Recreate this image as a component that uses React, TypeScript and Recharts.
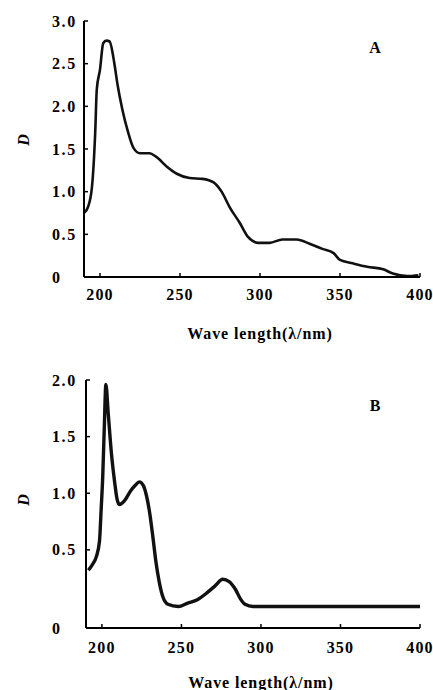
import React from 'react';
import { LineChart, Line, XAxis, YAxis } from 'recharts';

const wavelengthA = [190, 192.5, 195, 197, 198, 200, 202, 204, 206, 209, 211, 214, 217.5, 221, 225, 231, 235, 242, 248, 256, 264, 271, 276, 281, 287.5, 292.5, 299, 306, 314, 323, 331, 339, 346, 350, 358, 367, 377, 383, 392, 399];
const absorbA = [0.75, 0.82, 1.06, 1.69, 2.2, 2.43, 2.74, 2.77, 2.76, 2.5, 2.25, 1.96, 1.7, 1.51, 1.45, 1.45, 1.41, 1.29, 1.21, 1.16, 1.15, 1.11, 1.0, 0.82, 0.63, 0.47, 0.4, 0.4, 0.44, 0.44, 0.39, 0.33, 0.28, 0.2, 0.16, 0.12, 0.09, 0.04, 0.01, 0.02];

const wavelengthB = [191.5, 194, 196.5, 198.5, 199.5, 200.5, 201.5, 202.5, 204, 206, 208, 209.5, 211, 214, 218, 221, 223.5, 226, 228, 230, 232, 234, 236, 238, 241.5, 248, 254, 260, 266, 271, 276, 280, 284, 287, 290, 295, 320, 350, 380, 400];
const absorbB = [0.32, 0.37, 0.44, 0.58, 0.85, 1.14, 1.58, 1.96, 1.7, 1.35, 1.1, 0.95, 0.9, 0.93, 1.02, 1.07, 1.1, 1.07, 0.98, 0.83, 0.62, 0.39, 0.22, 0.1, 0.02, 0.0, 0.03, 0.06, 0.12, 0.18, 0.24, 0.22, 0.15, 0.07, 0.02, 0.0, 0.0, 0.0, 0.0, 0.0];

const xTicks = [200, 250, 300, 350, 400];
const xTickLabels = ['200', '250', '300', '350', '400'];
const yTicksA = [0, 0.5, 1, 1.5, 2, 2.5, 3];
const yTickLabelsA = ['0', '0.5', '1.0', '1.5', '2.0', '2.5', '3.0'];
const yTicksB = [-0.19, 0.5, 1, 1.5, 2];
const yTickLabelsB = ['0', '0.5', '1.0', '1.5', '2.0'];

const xTitle = 'Wave  length(λ/nm)';
const yTitle = 'D';
const panelA = 'A';
const panelB = 'B';

const dataA = wavelengthA.map((nm, i) => ({ nm, d: absorbA[i] }));
const dataB = wavelengthB.map((nm, i) => ({ nm, d: absorbB[i] }));

const FONT = '"Liberation Serif", "DejaVu Serif", serif';

const makeYTick = (values: number[], labels: string[], margin: number) => (props: any) => {
  const { x, y, payload } = props;
  const idx = values.indexOf(payload.value);
  const axisX = x + margin;
  return (
    <g>
      <line x1={axisX} x2={axisX + 4} y1={y} y2={y} stroke="#000" strokeWidth={1.5} />
      <text x={x} y={y} dy="0.35em" textAnchor="start" fontFamily={FONT} fontWeight="bold" fontSize={16} letterSpacing={1.6} fill="#000">
        {idx >= 0 ? labels[idx] : String(payload.value)}
      </text>
    </g>
  );
};

const makeXTick = (margin: number) => (props: any) => {
  const { x, y, payload } = props;
  const idx = xTicks.indexOf(payload.value);
  const axisY = y - margin;
  return (
    <g>
      <line x1={x} x2={x} y1={axisY} y2={axisY - 4} stroke="#000" strokeWidth={1.5} />
      <text x={x} y={y} dy="0.71em" textAnchor="middle" fontFamily={FONT} fontWeight="bold" fontSize={16} letterSpacing={1.2} fill="#000">
        {idx >= 0 ? xTickLabels[idx] : String(payload.value)}
      </text>
    </g>
  );
};

const yLabel = (dy: number) => (props: any) => {
  const vb = props.viewBox || { x: 0, y: 0, width: 0, height: 0 };
  const cx = vb.x + 23;
  const cy = vb.y + vb.height / 2 + dy;
  return (
    <text x={cx} y={cy} transform={`rotate(-90, ${cx}, ${cy})`} textAnchor="middle" dy="0.35em" fontFamily={FONT} fontStyle="italic" fontWeight="bold" fontSize={16} fill="#000">
      {yTitle}
    </text>
  );
};

const xLabel = (dy: number) => (props: any) => {
  const vb = props.viewBox || { x: 0, y: 0, width: 0, height: 0 };
  const cx = vb.x + vb.width / 2 + 8;
  const cy = vb.y + dy;
  return (
    <text x={cx} y={cy} textAnchor="middle" dy="0.35em" fontFamily={FONT} fontWeight="bold" fontSize={16} letterSpacing={0.9} fill="#000">
      {xTitle}
    </text>
  );
};

export default function App() {
  return (
    <div style={{ position: 'absolute', left: 0, top: 0, width: 433, height: 690, background: '#fff' }}>
      <LineChart width={433} height={345} data={dataA} margin={{ top: 21, right: 13, left: 0, bottom: 0 }}>
        <XAxis
          type="number"
          dataKey="nm"
          domain={[190, 400]}
          ticks={xTicks}
          height={68}
          tickSize={0}
          tickLine={false}
          tickMargin={12}
          axisLine={{ stroke: '#000', strokeWidth: 2 }}
          tick={makeXTick(12)}
          allowDataOverflow
          label={{ content: xLabel(56) }}
        />
        <YAxis
          type="number"
          domain={[0, 3]}
          ticks={yTicksA}
          width={84}
          tickSize={0}
          tickLine={false}
          tickMargin={32}
          axisLine={{ stroke: '#000', strokeWidth: 2 }}
          tick={makeYTick(yTicksA, yTickLabelsA, 32)}
          allowDataOverflow
          label={{ content: yLabel(-9) }}
        />
        <Line type="monotone" dataKey="d" stroke="#111" strokeWidth={2.6} dot={false} isAnimationActive={false} />
        <text x={375} y={47} dy="0.35em" textAnchor="middle" fontFamily={FONT} fontWeight="bold" fontSize={16} fill="#000">{panelA}</text>
      </LineChart>
      <LineChart width={433} height={345} data={dataB} margin={{ top: 35, right: 13, left: 0, bottom: 0 }}>
        <XAxis
          type="number"
          dataKey="nm"
          domain={[190, 400]}
          ticks={xTicks}
          height={62}
          tickSize={0}
          tickLine={false}
          tickMargin={14}
          axisLine={{ stroke: '#000', strokeWidth: 2 }}
          tick={makeXTick(14)}
          allowDataOverflow
          label={{ content: xLabel(54) }}
        />
        <YAxis
          type="number"
          domain={[-0.19, 2]}
          ticks={yTicksB}
          width={86}
          tickSize={0}
          tickLine={false}
          tickMargin={34}
          axisLine={{ stroke: '#000', strokeWidth: 2 }}
          tick={makeYTick(yTicksB, yTickLabelsB, 34)}
          allowDataOverflow
          label={{ content: yLabel(-4) }}
        />
        <Line type="monotone" dataKey="d" stroke="#111" strokeWidth={3.4} dot={false} isAnimationActive={false} />
        <text x={375} y={60} dy="0.35em" textAnchor="middle" fontFamily={FONT} fontWeight="bold" fontSize={16} fill="#000">{panelB}</text>
      </LineChart>
    </div>
  );
}
